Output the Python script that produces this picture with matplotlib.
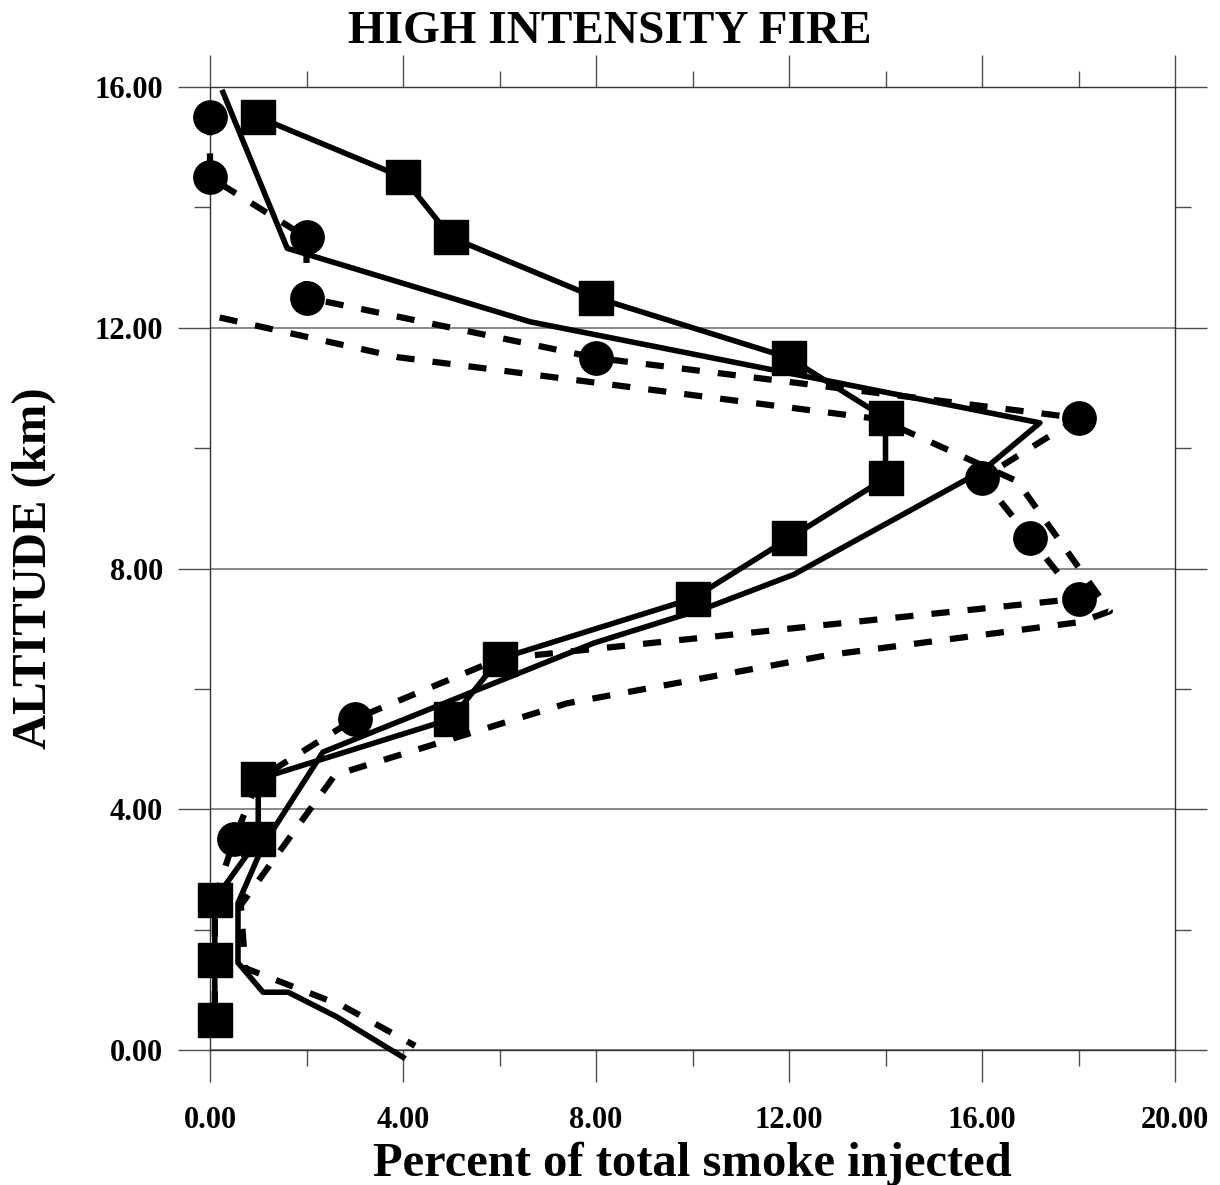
import numpy as np
import matplotlib.pyplot as plt
from matplotlib.ticker import MultipleLocator, FormatStrFormatter

plt.rcParams['font.family'] = ['Liberation Serif', 'DejaVu Serif']
plt.rcParams['font.weight'] = 'bold'

# square markers, solid line
sq_x = [1.0, 4.0, 5.0, 8.0, 12.0, 14.0, 14.0, 12.0, 10.0, 6.0, 5.0, 1.0, 1.0, 0.1, 0.1, 0.1]
sq_y = [15.5, 14.5, 13.5, 12.5, 11.5, 10.5, 9.5, 8.5, 7.5, 6.5, 5.5, 4.5, 3.5, 2.5, 1.5, 0.5]

# circle markers, dashed line
ci_x = [0.0, 0.0, 2.0, 2.0, 8.0, 18.0, 16.0, 17.0, 18.0, 6.0, 3.0, 1.0, 0.5, 0.1, 0.1, 0.1]
ci_y = [15.5, 14.5, 13.5, 12.5, 11.5, 10.5, 9.5, 8.5, 7.5, 6.5, 5.5, 4.5, 3.5, 2.5, 1.5, 0.5]

# plain solid line
sl_x = [0.27, 1.6, 6.63, 17.2, 16.02, 12.1, 10.3, 7.95, 2.34, 1.1, 0.58, 0.58, 1.1, 1.62, 2.63, 4.0]
sl_y = [15.91, 13.32, 12.1, 10.42, 9.63, 7.9, 7.35, 6.76, 4.95, 3.4, 2.44, 1.45, 0.96, 0.96, 0.55, -0.12]

# plain dashed line
dl_x = [0.2, 3.9, 13.89, 16.73, 18.65, 18.03, 12.8, 7.4, 2.59, 0.64, 0.73, 2.76, 4.25]
dl_y = [12.17, 11.51, 10.48, 9.45, 7.29, 7.11, 6.56, 5.76, 4.57, 2.41, 1.36, 0.73, 0.07]

fig = plt.figure(figsize=(12.2, 11.85), dpi=100)
ax = fig.add_axes([210 / 1220, 135 / 1185, 965 / 1220, 963 / 1185])

ax.plot(dl_x, dl_y, color='k', lw=4.5, dashes=(2.9, 2.9), clip_on=False, zorder=3)
ax.plot(sl_x, sl_y, color='k', lw=4, clip_on=False, zorder=3)
ax.plot(ci_x, ci_y, color='k', lw=4.5, dashes=(2.9, 2.9), marker='o', ms=24,
        clip_on=False, zorder=4)
ax.plot(sq_x, sq_y, color='k', lw=4, marker='s', ms=24, clip_on=False, zorder=5)

ax.set_xlim(0, 20)
ax.set_ylim(0, 16)
ax.xaxis.set_major_locator(MultipleLocator(4))
ax.xaxis.set_minor_locator(MultipleLocator(2))
ax.yaxis.set_major_locator(MultipleLocator(4))
ax.yaxis.set_minor_locator(MultipleLocator(2))
ax.xaxis.set_major_formatter(FormatStrFormatter('%.2f'))
ax.yaxis.set_major_formatter(FormatStrFormatter('%.2f'))

ax.yaxis.grid(True, which='major', color='0.45', lw=1.2)
ax.set_axisbelow(True)
for s in ax.spines.values():
    s.set_color('0.2')
    s.set_linewidth(1.0)

ax.tick_params(which='both', direction='out', top=True, right=True, color='0.3', width=1.0)
ax.tick_params(which='major', length=23, labelsize=22)
ax.tick_params(which='minor', length=11.5)
ax.tick_params(axis='x', which='major', pad=17)
ax.tick_params(axis='y', which='major', pad=11)

fig.text(0.5, 1 - 43 / 1185, 'HIGH INTENSITY FIRE', ha='center', va='baseline',
         fontsize=34, fontweight='bold')
fig.text(692 / 1220, 1 - 1176 / 1185, 'Percent of total smoke injected', ha='center',
         va='baseline', fontsize=35, fontweight='bold')
fig.text(46 / 1220, 1 - 568 / 1185, 'ALTITUDE (km)', ha='center', va='baseline',
         rotation=90, rotation_mode='anchor', fontsize=35, fontweight='bold')

fig.savefig('out.png', dpi=100)
